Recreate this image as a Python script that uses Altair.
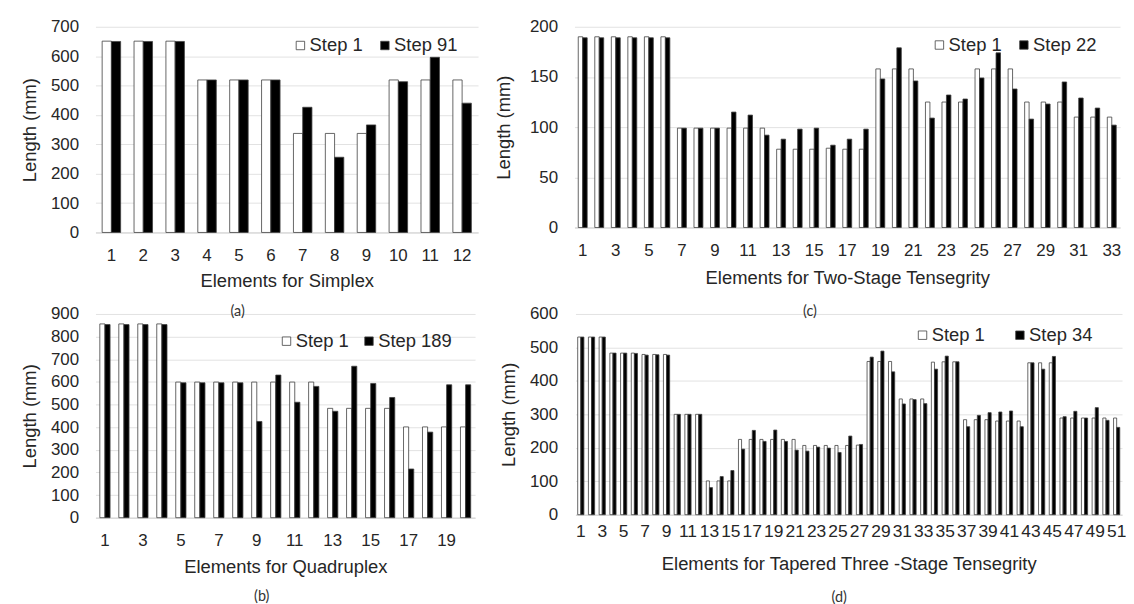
import altair as alt
import pandas as pd

FONT = "Liberation Sans"
CAPFONT = "Lato"
TXT = "#262626"
GRID = "#e2e2e2"
DOMAIN = "#d0d0d0"
BARSTROKE = "#404040"

# ---------------- (a) Simplex ----------------
simplex_elements = [1, 2, 3, 4, 5, 6, 7, 8, 9, 10, 11, 12]
simplex_step1 = [651, 651, 651, 519, 519, 519, 337, 337, 337, 519, 519, 519]
simplex_step91 = [650, 650, 650, 519, 519, 519, 426, 256, 366, 513, 596, 440]
simplex_xticks = [1, 2, 3, 4, 5, 6, 7, 8, 9, 10, 11, 12]
simplex_yticks = [0, 100, 200, 300, 400, 500, 600, 700]

# ---------------- (b) Quadruplex ----------------
quad_elements = [1, 2, 3, 4, 5, 6, 7, 8, 9, 10, 11, 12, 13, 14, 15, 16, 17, 18, 19, 20]
quad_step1 = [856, 856, 856, 856, 599, 599, 599, 599, 599, 599, 599, 599,
              483, 483, 483, 483, 401, 401, 401, 401]
quad_step189 = [853, 853, 853, 853, 596, 596, 596, 596, 425, 630, 510, 580,
                470, 669, 593, 531, 215, 378, 587, 587]
quad_xticks = [1, 3, 5, 7, 9, 11, 13, 15, 17, 19]
quad_yticks = [0, 100, 200, 300, 400, 500, 600, 700, 800, 900]

# ---------------- (c) Two-Stage Tensegrity ----------------
two_elements = [1, 2, 3, 4, 5, 6, 7, 8, 9, 10, 11, 12, 13, 14, 15, 16, 17,
                18, 19, 20, 21, 22, 23, 24, 25, 26, 27, 28, 29, 30, 31, 32, 33]
two_step1 = [190, 190, 190, 190, 190, 190, 99, 99, 99, 99, 99, 99,
             78, 78, 78, 79, 78, 78, 158, 158, 158, 125, 125, 125,
             158, 158, 158, 125, 125, 125, 110, 110, 110]
two_step22 = [189, 189, 189, 189, 189, 189, 99, 99, 99, 115, 112, 92,
              88, 98, 99, 82, 88, 98, 148, 179, 146, 109, 132, 128,
              149, 174, 138, 108, 123, 145, 129, 119, 102]
two_xticks = [1, 3, 5, 7, 9, 11, 13, 15, 17, 19, 21, 23, 25, 27, 29, 31, 33]
two_yticks = [0, 50, 100, 150, 200]

# ---------------- (d) Tapered Three-Stage Tensegrity ----------------
three_elements = [1, 2, 3, 4, 5, 6, 7, 8, 9, 10, 11, 12, 13, 14, 15, 16, 17,
                  18, 19, 20, 21, 22, 23, 24, 25, 26, 27, 28, 29, 30, 31, 32, 33, 34,
                  35, 36, 37, 38, 39, 40, 41, 42, 43, 44, 45, 46, 47, 48, 49, 50, 51]
three_step1 = [531, 531, 531, 483, 483, 483, 479, 479, 479, 300, 300, 300,
               101, 101, 101, 225, 225, 225, 225, 225, 225, 207, 207, 207,
               207, 207, 208, 458, 458, 458, 346, 346, 346, 456, 457, 457,
               284, 284, 284, 280, 280, 280, 454, 454, 454, 289, 289, 289,
               289, 289, 289]
three_step34 = [531, 531, 531, 483, 483, 482, 477, 478, 477, 300, 300, 300,
                81, 114, 132, 196, 252, 219, 253, 219, 193, 190, 202, 199,
                186, 235, 210, 471, 489, 427, 331, 344, 332, 435, 474, 457,
                263, 297, 305, 307, 310, 263, 454, 435, 473, 293, 309, 289,
                320, 282, 261]
three_xticks = [1, 3, 5, 7, 9, 11, 13, 15, 17, 19, 21, 23, 25, 27, 29, 31, 33,
                35, 37, 39, 41, 43, 45, 47, 49, 51]
three_yticks = [0, 100, 200, 300, 400, 500, 600]


def long_df(elements, first, second, name_first, name_second):
    rows = []
    for e, v in zip(elements, first):
        rows.append({"element": e, "step": name_first, "length": v})
    for e, v in zip(elements, second):
        rows.append({"element": e, "step": name_second, "length": v})
    return pd.DataFrame(rows)


def caption(text, orient, **kw):
    return alt.TitleParams(
        text, orient=orient, font=CAPFONT, fontSize=14.5,
        fontWeight="normal", color="#333333", **kw)


def panel(df, names, yticks, xticks, width, height, pad_inner, xtitle,
          x_lab_pad, x_title_pad, y_lab_pad, y_title_pad,
          leg_x, leg_y, leg_gap, tick_size=17, title=None):
    props = dict(width=width, height=height)
    if title is not None:
        props["title"] = title
    return alt.Chart(df).mark_bar(stroke=BARSTROKE, strokeWidth=0.8).encode(
        x=alt.X(
            "element:O",
            sort=None,
            scale=alt.Scale(paddingInner=pad_inner, paddingOuter=pad_inner / 2),
            axis=alt.Axis(
                values=xticks, labelAngle=0, title=xtitle, ticks=False,
                domainColor=DOMAIN, grid=False, labelOverlap=False,
                labelPadding=x_lab_pad, titlePadding=x_title_pad,
                labelFont=FONT, labelFontSize=tick_size, labelColor=TXT,
                titleFont=FONT, titleFontSize=18.5, titleFontWeight="normal",
                titleColor=TXT,
            ),
        ),
        xOffset=alt.XOffset(
            "step:N",
            scale=alt.Scale(domain=names, paddingInner=0, paddingOuter=0),
        ),
        y=alt.Y(
            "length:Q",
            scale=alt.Scale(domain=[yticks[0], yticks[-1]], nice=False),
            axis=alt.Axis(
                values=yticks, title="Length (mm)", ticks=False, domain=False,
                gridColor=GRID, labelPadding=y_lab_pad, titlePadding=y_title_pad,
                labelFont=FONT, labelFontSize=17, labelColor=TXT,
                titleFont=FONT, titleFontSize=18.5, titleFontWeight="normal",
                titleColor=TXT,
            ),
        ),
        fill=alt.Fill(
            "step:N",
            scale=alt.Scale(domain=names, range=["white", "black"]),
            legend=alt.Legend(
                orient="none", legendX=leg_x, legendY=leg_y,
                direction="horizontal", title=None, symbolType="square",
                symbolSize=72, symbolStrokeColor=BARSTROKE,
                symbolStrokeWidth=0.8, labelFont=FONT, labelFontSize=18.5,
                labelColor=TXT, columnPadding=leg_gap, labelOffset=0,
                padding=0,
            ),
        ),
    ).properties(**props)


chart_a = panel(
    long_df(simplex_elements, simplex_step1, simplex_step91, "Step 1", "Step 91"),
    ["Step 1", "Step 91"], simplex_yticks, simplex_xticks, 385, 207, 0.42,
    "Elements for Simplex", 15, 8, 17, 11, 197, 9.5, 13)

chart_c = panel(
    long_df(two_elements, two_step1, two_step22, "Step 1", "Step 22"),
    ["Step 1", "Step 22"], two_yticks, two_xticks, 549, 202, 0.46,
    "Elements for Two-Stage Tensegrity", 15, 10, 17, 16, 358, 9, 13)

chart_b = panel(
    long_df(quad_elements, quad_step1, quad_step189, "Step 1", "Step 189"),
    ["Step 1", "Step 189"], quad_yticks, quad_xticks, 382, 205, 0.46,
    "Elements for Quadruplex", 14.5, 10, 17, 11, 183, 18, 11,
    title=caption("(a)", "top", anchor="middle", frame="group",
                  offset=0, dx=-48, dy=15))

chart_d = panel(
    long_df(three_elements, three_step1, three_step34, "Step 1", "Step 34"),
    ["Step 1", "Step 34"], three_yticks, three_xticks, 550, 202, 0.42,
    "Elements for Tapered Three -Stage Tensegrity", 7.5, 15, 18, 11, 340, 12, 26,
    tick_size=17.5,
    title=caption("(c)", "top", anchor="middle", frame="group",
                  offset=0, dx=-39, dy=15))

wrap_b = alt.vconcat(chart_b, spacing=0).properties(
    title=caption("(b)", "bottom", anchor="start", frame="bounds",
                  offset=14, dx=235))
wrap_d = alt.vconcat(chart_d, spacing=0).properties(
    title=caption("(d)", "bottom", anchor="start", frame="bounds",
                  offset=18, dx=334))

top = alt.hconcat(chart_a, chart_c, spacing=16).resolve_scale(
    fill="independent", xOffset="independent").resolve_legend(fill="independent")
bottom = alt.hconcat(wrap_b, wrap_d, spacing=24).resolve_scale(
    fill="independent", xOffset="independent").resolve_legend(fill="independent")

chart = alt.vconcat(top, bottom, spacing=14).resolve_scale(
    fill="independent", xOffset="independent").resolve_legend(
    fill="independent").properties(
    padding={"left": 12, "top": 8, "right": 0, "bottom": 0},
    background="white",
).configure_view(stroke=None)

chart.save("out.html", embed_options={"renderer": "svg", "actions": False})
